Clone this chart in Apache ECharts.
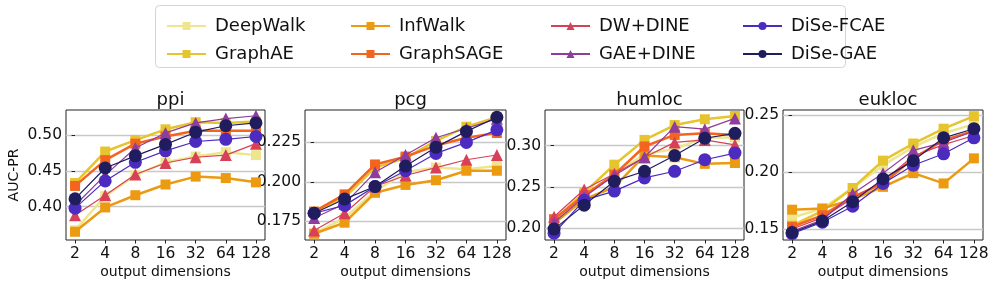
<!DOCTYPE html>
<html><head><meta charset="utf-8">
<script src="https://cdn.jsdelivr.net/npm/echarts@6/dist/echarts.min.js"></script>
<style>html,body{margin:0;padding:0;background:#fff}#c{width:996px;height:289px}</style>
</head><body><div id="c"></div>
<script>
const dims = ['2','4','8','16','32','64','128'];
const methods = ['DeepWalk','GraphAE','InfWalk','GraphSAGE','DW+DINE','GAE+DINE','DiSe-FCAE','DiSe-GAE'];
const datasets = ['ppi','pcg','humloc','eukloc'];

const ppi = [
  [0.367,0.415,0.444,0.462,0.470,0.476,0.472],
  [0.433,0.477,0.493,0.508,0.518,0.517,0.519],
  [0.365,0.399,0.416,0.431,0.442,0.440,0.434],
  [0.429,0.465,0.488,0.498,0.506,0.506,0.506],
  [0.388,0.416,0.445,0.461,0.469,0.472,0.488],
  [0.402,0.444,0.482,0.503,0.517,0.523,0.527],
  [0.398,0.436,0.462,0.478,0.491,0.494,0.498],
  [0.411,0.454,0.471,0.487,0.504,0.513,0.517]
];
const pcg = [
  [0.167,0.177,0.194,0.206,0.209,0.208,0.210],
  [0.181,0.190,0.209,0.215,0.226,0.235,0.241],
  [0.167,0.174,0.193,0.198,0.201,0.207,0.207],
  [0.181,0.192,0.211,0.216,0.223,0.228,0.231],
  [0.169,0.180,0.197,0.204,0.209,0.214,0.217],
  [0.177,0.186,0.206,0.217,0.228,0.234,0.240],
  [0.180,0.185,0.197,0.207,0.218,0.225,0.233],
  [0.180,0.189,0.197,0.210,0.222,0.232,0.241]
];
const humloc = [
  [0.205,0.240,0.265,0.290,0.296,0.310,0.310],
  [0.210,0.243,0.277,0.307,0.325,0.332,0.336],
  [0.206,0.235,0.250,0.288,0.286,0.278,0.279],
  [0.211,0.240,0.265,0.299,0.313,0.315,0.313],
  [0.214,0.247,0.266,0.286,0.304,0.307,0.301],
  [0.207,0.238,0.264,0.286,0.323,0.320,0.333],
  [0.194,0.234,0.245,0.261,0.269,0.283,0.291],
  [0.199,0.228,0.257,0.269,0.288,0.309,0.315]
];
const eukloc = [
  [0.160,0.168,0.186,0.206,0.222,0.234,0.242],
  [0.153,0.166,0.186,0.210,0.225,0.238,0.249],
  [0.167,0.168,0.176,0.187,0.199,0.190,0.212],
  [0.152,0.162,0.178,0.190,0.212,0.228,0.236],
  [0.150,0.160,0.177,0.192,0.214,0.224,0.232],
  [0.148,0.158,0.181,0.199,0.219,0.226,0.236],
  [0.146,0.156,0.170,0.190,0.206,0.216,0.230],
  [0.147,0.157,0.174,0.194,0.210,0.230,0.238]
];
const yTicks = [
  [0.40,0.45,0.50],
  [0.175,0.200,0.225],
  [0.20,0.25,0.30],
  [0.15,0.20,0.25]
];
const yDigits = [2,3,2,2];
const yRanges = [[0.3535,0.535],[0.163,0.2456],[0.1858,0.3432],[0.1404,0.2544]];

const colors = ['#eee68c','#e6c42e','#ec9a12','#f4641e','#d8405a','#8e3c9e','#4b2bc0','#1f1d5e'];
const symbols = ['rect','rect','rect','rect','triangle','triangle','circle','circle'];
const symSizes = [10,10,10,10,12,12,13,13];
const lineWidths = [2.5,2.5,2.5,2.5,1.2,1.2,1.2,1.2];

const allData = [ppi, pcg, humloc, eukloc];
const gridLefts = [66,305,545,783];
const gridWidths = [199,201,199,200];
const FONT = 'DejaVu Sans';

const grids=[], xAxes=[], yAxes=[], series=[], titles=[];
for (let p=0;p<4;p++){
  grids.push({left:gridLefts[p], top:110, width:gridWidths[p], height:130, show:true, borderColor:'#222', borderWidth:1, containLabel:false});
  titles.push({text:datasets[p], left:gridLefts[p]+gridWidths[p]/2, top:86, textAlign:'center',
    textStyle:{fontFamily:FONT, fontSize:18, fontWeight:'normal', color:'#111'}});
  xAxes.push({type:'value', gridIndex:p, min:-0.3, max:6.3,
    name:'output dimensions', nameLocation:'middle', nameGap:25,
    nameTextStyle:{fontFamily:FONT, fontSize:14, color:'#111'},
    axisLine:{show:false}, splitLine:{show:false},
    axisTick:{show:true, length:3.5, lineStyle:{color:'#222'}, customValues:[0,1,2,3,4,5,6]},
    axisLabel:{fontFamily:FONT, fontSize:15.5, color:'#111', margin:6, customValues:[0,1,2,3,4,5,6],
      formatter:v=>dims[Math.round(v)]}});
  const dg = yDigits[p];
  yAxes.push({type:'value', gridIndex:p, min:yRanges[p][0], max:yRanges[p][1],
    name: p===0 ? 'AUC-PR' : '', nameLocation:'middle', nameGap:45,
    nameTextStyle:{fontFamily:FONT, fontSize:14, color:'#111'},
    axisLine:{show:false},
    splitLine:{show:true, lineStyle:{color:'#c8c8c8', width:1.4}},
    axisTick:{show:true, length:3.5, lineStyle:{color:'#222'}, customValues:yTicks[p]},
    axisLabel:{fontFamily:FONT, fontSize:15.5, color:'#111', margin:4, customValues:yTicks[p],
      formatter:v=>v.toFixed(dg)}});
  for (let m=0;m<8;m++){
    series.push({type:'line', name:methods[m], xAxisIndex:p, yAxisIndex:p,
      data: allData[p][m].map((v,i)=>[i,v]),
      symbol:symbols[m], symbolSize:symSizes[m], showSymbol:true,
      itemStyle:{color:colors[m], borderColor:colors[m], borderWidth:0, opacity:1},
      lineStyle:{color:colors[m], width:lineWidths[m]},
      z: 2+m, silent:true, animation:false});
  }
}

const legendCols = [[0,1],[2,3],[4,5],[6,7]];
const legendLefts = [161,345,545,737];
const legends = legendCols.map((c,i)=>({
  orient:'vertical', left:legendLefts[i], top:12, itemGap:10, itemWidth:39, itemHeight:10,
  data:c.map(k=>methods[k]),
  textStyle:{fontFamily:FONT, fontSize:18, color:'#111', padding:[0,0,0,4]},
  selectedMode:false
}));

const chart = echarts.init(document.getElementById('c'), null, {renderer:'canvas'});
chart.setOption({
  animation:false,
  backgroundColor:'#fff',
  title:titles,
  graphic:[{type:'rect', shape:{x:155.5,y:5.5,width:690,height:62,r:4}, style:{fill:'#fff', stroke:'#d4d4d4', lineWidth:1}, z:-1, silent:true}],
  legend:legends,
  grid:grids, xAxis:xAxes, yAxis:yAxes, series:series
});
</script></body></html>
